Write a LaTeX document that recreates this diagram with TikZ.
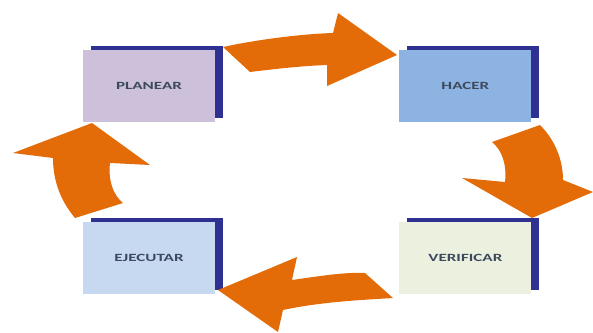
\documentclass[tikz,border=0pt]{standalone}
\usepackage{fontspec}
\usepackage{tikz}
\usetikzlibrary{positioning,shadows}
\newfontfamily\stagefont{Carlito}
\definecolor{arrorange}{HTML}{E36C09}
\definecolor{barblue}{HTML}{2E3192}
\definecolor{planfill}{HTML}{CCC0DA}
\definecolor{hacerfill}{HTML}{8DB3E2}
\definecolor{ejecfill}{HTML}{C6D9F1}
\definecolor{verifill}{HTML}{EBF1DE}
\definecolor{stagetext}{HTML}{3D4A5E}
\newcommand{\wide}[1]{\scalebox{1.55}[1]{#1}}

\begin{document}
\begin{tikzpicture}[x=1pt,y=-1pt,
  stagebox/.style={minimum width=132pt,minimum height=72pt,inner sep=0pt,
    text=stagetext,font=\stagefont\bfseries\fontsize{11}{13}\selectfont,
    copy shadow={shadow xshift=7.5pt,shadow yshift=4.5pt,fill=barblue,draw=none}},
  bigarrow/.style={fill=arrorange,draw=none}]
  \useasboundingbox (0,0) rectangle (593,332);
  \node[stagebox,fill=planfill]  (plan) at (149,86) {\wide{PLANEAR}};
  \node[stagebox,fill=hacerfill] (hacer) [right=184pt of plan] {\wide{HACER}};
  \node[stagebox,fill=ejecfill]  (ejec) [below=100pt of plan] {\wide{EJECUTAR}};
  \node[stagebox,fill=verifill]  (veri) [below=100pt of hacer] {\wide{VERIFICAR}};
  \fill[bigarrow] (223,47) .. controls (255,40) and (300,34) .. (333,33)
    -- (338,13) -- (397,55) -- (327,86) -- (327,65)
    .. controls (300,66) and (275,69) .. (250,72) -- cycle;
  \fill[bigarrow] (492,142) -- (540,125) .. controls (555,140) and (563,160) .. (563,180)
    -- (593,192) -- (532,218) -- (462,178) -- (505,182)
    .. controls (507,165) and (502,150) .. (492,142) -- cycle;
  \fill[bigarrow] (218,290) -- (297,257) -- (292,280)
    .. controls (320,276) and (345,272) .. (365,273) -- (393,298)
    .. controls (360,300) and (320,302) .. (283,310) -- (278,332) -- cycle;
  \fill[bigarrow] (92,123) -- (150,165) -- (110,163)
    .. controls (108,180) and (113,195) .. (123,203) -- (75,218)
    .. controls (60,200) and (53,180) .. (53,158) -- (13,153) -- cycle;
\end{tikzpicture}
\end{document}
